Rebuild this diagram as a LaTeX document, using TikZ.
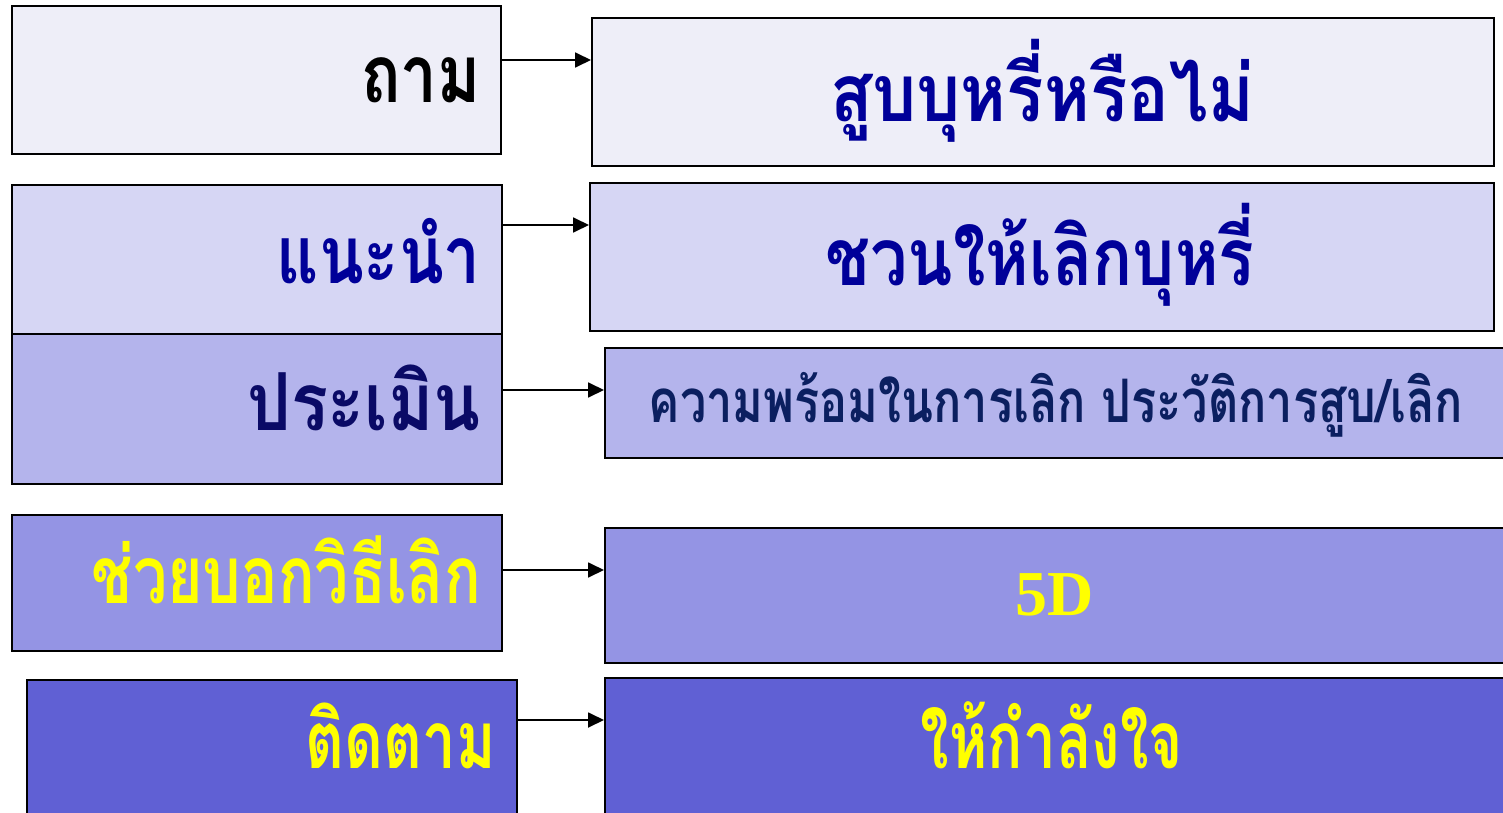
\documentclass[tikz,border=0pt]{standalone}
\usepackage{graphicx}
\usepackage{fontspec}
\setmainfont{Liberation Serif}
\newfontfamily\thai[Script=Thai]{Loma}
\usetikzlibrary{arrows.meta}
\definecolor{cA}{HTML}{EEEEF8}
\definecolor{cB}{HTML}{D6D6F4}
\definecolor{cC}{HTML}{B4B4EC}
\definecolor{cD}{HTML}{9494E4}
\definecolor{cE}{HTML}{6060D4}
\definecolor{tblue}{HTML}{000099}
\definecolor{tnavy}{HTML}{0A0A66}
\definecolor{tnavyb}{HTML}{0B1F60}
\definecolor{tyel}{HTML}{FFFF00}
\newcommand{\hsq}[2]{\scalebox{#1}[1]{#2}}
\tikzset{
  box/.style={draw=black, line width=2pt, inner sep=0pt},
  lbl/.style={inner sep=0pt, font=\thai\bfseries\fontsize{80}{80}\selectfont},
  conn/.style={line width=1.8pt, -{Triangle[length=16pt,width=15pt]}}
}
\begin{document}
\begin{tikzpicture}[x=1pt,y=-1pt]
\useasboundingbox (0,0) rectangle (1503,813);
\begin{scope}
\clip (0,0) rectangle (1503,813);
% left boxes
\node[box, fill=cA, minimum width=489pt, minimum height=148pt, anchor=north west] (l1) at (11,5) {};
\node[box, fill=cB, minimum width=490pt, minimum height=149pt, anchor=north west] (l2) at (11,184) {};
\node[box, fill=cC, minimum width=490pt, minimum height=150pt, anchor=north west] (l3) at (11,333) {};
\node[box, fill=cD, minimum width=490pt, minimum height=136pt, anchor=north west] (l4) at (11,514) {};
\node[box, fill=cE, minimum width=490pt, minimum height=150pt, anchor=north west] (l5) at (26,679) {};
% right boxes
\node[box, fill=cA, minimum width=902pt, minimum height=148pt, anchor=north west] (r1) at (591,17) {};
\node[box, fill=cB, minimum width=904pt, minimum height=148pt, anchor=north west] (r2) at (589,182) {};
\node[box, fill=cC, minimum width=905pt, minimum height=110pt, anchor=north west] (r3) at (604,347) {};
\node[box, fill=cD, minimum width=905pt, minimum height=135pt, anchor=north west] (r4) at (604,527) {};
\node[box, fill=cE, minimum width=905pt, minimum height=150pt, anchor=north west] (r5) at (604,677) {};
\end{scope}
% labels
\node[lbl, anchor=base east, text=black] (t1) at (481,103) {\hsq{0.82}{ถาม}};
\node[lbl, anchor=base east, text=tblue] (t2) at (481,283) {\hsq{0.82}{แนะนำ}};
\node[lbl, anchor=base east, text=tnavy] (t3) at (481,430) {\hsq{0.86}{ประเมิน}};
\node[lbl, anchor=base east, text=tyel] (t4) at (481,603) {\hsq{0.76}{ช่วยบอกวิธีเลิก}};
\node[lbl, anchor=base east, text=tyel] (t5) at (496,768) {\hsq{0.75}{ติดตาม}};
\node[lbl, anchor=base, text=tblue] (u1) at (1042,122) {\hsq{0.87}{สูบบุหรี่หรือไม่}};
\node[lbl, anchor=base, text=tblue] (u2) at (1040,285) {\hsq{0.83}{ชวนให้เลิกบุหรี่}};
\node[lbl, anchor=base, text=tnavyb, font=\thai\bfseries\fontsize{60}{60}\selectfont] (u3) at (1056,422) {\hsq{0.78}{ความพร้อมในการเลิก ประวัติการสูบ/เลิก}};
\node[inner sep=0pt, anchor=base, text=tyel, font=\bfseries\fontsize{64}{64}\selectfont] (u4) at (1055,615) {5D};
\node[lbl, anchor=base, text=tyel] (u5) at (1052,768) {\hsq{0.73}{ให้กำลังใจ}};
% connectors
\draw[conn] (l1.east |- 0,60) -- (r1.west |- 0,60);
\draw[conn] (l2.east |- 0,225) -- (r2.west |- 0,225);
\draw[conn] (l3.east |- 0,390) -- (r3.west |- 0,390);
\draw[conn] (l4.east |- 0,570) -- (r4.west |- 0,570);
\draw[conn] (l5.east |- 0,720) -- (r5.west |- 0,720);
\end{tikzpicture}
\end{document}
